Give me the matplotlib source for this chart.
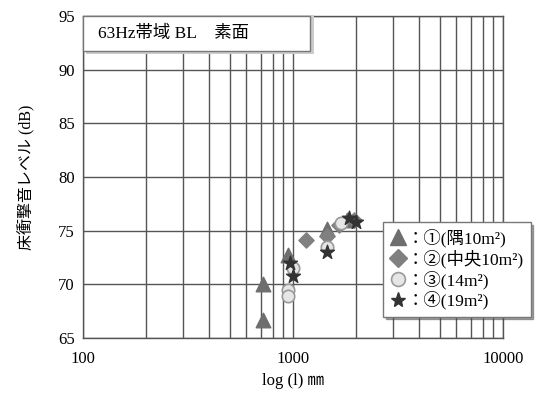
import matplotlib
matplotlib.use("Agg")
import matplotlib.pyplot as plt
from matplotlib.lines import Line2D
from matplotlib.patches import Rectangle
from matplotlib.ticker import LogLocator, FixedLocator, NullFormatter

plt.rcParams['font.family'] = ['Liberation Serif', 'Noto Sans CJK JP', 'DejaVu Sans']

# span (mm) vs floor impact level (dB), 63 Hz band
x_1 = [720, 720, 950, 1450, 1800]
y_1 = [70.0, 66.7, 72.7, 75.2, 76.0]
x_2 = [1150, 1450, 1650, 1950]
y_2 = [74.1, 74.5, 75.5, 76.0]
x_3 = [950, 950, 1000, 1450, 1700]
y_3 = [69.5, 68.9, 71.5, 73.5, 75.7]
x_4 = [1000, 970, 1450, 1850, 2000]
y_4 = [70.8, 72.0, 73.0, 76.2, 75.8]

labels = ["：①(隅10m²)", "：②(中央10m²)", "：③(14m²)", "：④(19m²)"]
title_text = "63Hz帯域 BL　素面"
yticks = [65, 70, 75, 80, 85, 90, 95]
xticks = [100, 1000, 10000]

fig = plt.figure(figsize=(5.48, 4.05), dpi=100)
ax = fig.add_axes([0.1515, 0.1654, 0.7665, 0.7951])

ax.set_xscale('log')
ax.set_xlim(100, 10000)
ax.set_ylim(65, 95)

grid_kw = dict(color='#555555', lw=1.0, zorder=1)
ax.xaxis.set_major_locator(FixedLocator(xticks))
ax.xaxis.set_minor_locator(LogLocator(base=10, subs=range(2, 10)))
ax.xaxis.set_minor_formatter(NullFormatter())
ax.set_xticklabels([str(v) for v in xticks])
ax.set_yticks(yticks)
ax.grid(True, which='both', axis='x', **grid_kw)
ax.grid(True, which='major', axis='y', **grid_kw)
ax.tick_params(which='both', length=0, labelsize=12, pad=6)
ax.tick_params(axis='x', pad=9)
for s in ax.spines.values():
    s.set_color('#555555')
    s.set_linewidth(1.0)

ax.scatter(x_1, y_1, marker='^', s=110, color='#6e6e6e', zorder=3)
ax.scatter(x_2, y_2, marker='D', s=60, color='#808080', zorder=3)
ax.scatter(x_3, y_3, marker='o', s=80, facecolor='#e6e6e6', edgecolor='#9a9a9a', lw=1.2, zorder=3)
ax.scatter(x_4, y_4, marker='*', s=110, color='#333333', zorder=4)

# title box with a light shadow
ax.add_patch(Rectangle((0.006, 0.883), 0.545, 0.12, transform=ax.transAxes,
                       facecolor='#cccccc', edgecolor='none', zorder=5, clip_on=False))
ax.add_patch(Rectangle((0.0, 0.89), 0.54, 0.11, transform=ax.transAxes,
                       facecolor='white', edgecolor='#777777', lw=1.0, zorder=6, clip_on=False))
ax.text(0.035, 0.945, title_text, transform=ax.transAxes, fontsize=12.5,
        va='center', ha='left', zorder=7)

handles = [
    Line2D([], [], ls='none', marker='^', ms=11, color='#6e6e6e'),
    Line2D([], [], ls='none', marker='D', ms=9, color='#808080'),
    Line2D([], [], ls='none', marker='o', ms=10, markerfacecolor='#e6e6e6',
           markeredgecolor='#9a9a9a', markeredgewidth=1.2),
    Line2D([], [], ls='none', marker='*', ms=11, color='#333333'),
]
leg = fig.legend(handles, labels, loc='upper left', bbox_to_anchor=(383 / 548, 1 - 222 / 405),
                 fontsize=12.5, frameon=True, fancybox=False, shadow=True,
                 handlelength=0.9, handletextpad=0.05, labelspacing=0.12,
                 borderpad=0.4, borderaxespad=0)
leg.get_frame().set_edgecolor('#777777')
leg.get_frame().set_linewidth(1.0)
leg.set_zorder(10)

ax.set_ylabel("床衝撃音レベル (dB)", fontsize=11.5, labelpad=16)
ax.set_xlabel("log (l) ㎜", fontsize=12, labelpad=5)

fig.savefig("out.png", dpi=100)
